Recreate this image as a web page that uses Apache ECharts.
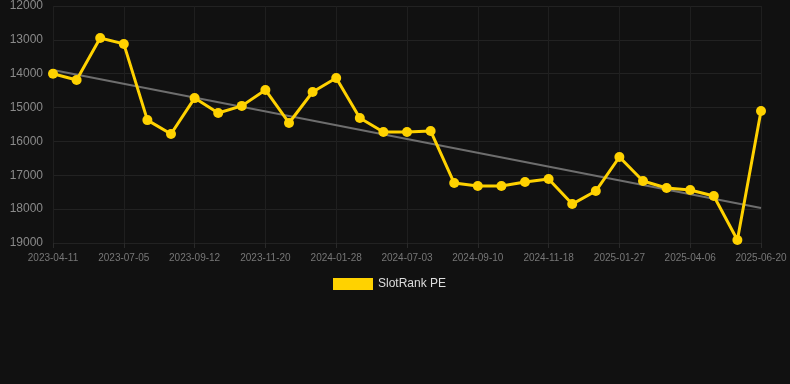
<!DOCTYPE html>
<html>
<head>
<meta charset="utf-8">
<script src="https://cdn.jsdelivr.net/npm/echarts@6/dist/echarts.min.js"></script>
<style>
html,body{margin:0;padding:0;background:#111111;}
#chart{width:790px;height:384px;}
</style>
</head>
<body>
<div id="chart"></div>
<script>
const dates = [
  '2023-04-11','2023-05-09','2023-06-07','2023-07-05','2023-07-28','2023-08-20',
  '2023-09-12','2023-10-05','2023-10-28','2023-11-20','2023-12-13','2024-01-05',
  '2024-01-28','2024-03-20','2024-05-12','2024-07-03','2024-07-26','2024-08-18',
  '2024-09-10','2024-10-03','2024-10-26','2024-11-18','2024-12-11','2025-01-04',
  '2025-01-27','2025-02-19','2025-03-14','2025-04-06','2025-05-01','2025-05-26',
  '2025-06-20'
];
const rankValues = [
  14000, 14185, 12945, 13120, 15370, 15780,
  14720, 15160, 14950, 14480, 15455, 14540,
  14125, 15310, 15720, 15720, 15690, 17230,
  17315, 17315, 17200, 17110, 17850, 17465,
  16460, 17170, 17375, 17435, 17610, 18910,
  15100
];
const trendStart = 13890;
const trendEnd = 17966;
const yTicks = { min: 12000, max: 19000, step: 1000 };
const seriesName = 'SlotRank PE';

const trendData = dates.map((d, i) => i === 0 ? trendStart : (i === dates.length - 1 ? trendEnd : null));

const chart = echarts.init(document.getElementById('chart'), null, { renderer: 'canvas' });
chart.setOption({
  backgroundColor: '#111111',
  animation: false,
  textStyle: { fontFamily: 'Arial, "Liberation Sans", sans-serif' },
  grid: { left: 53, right: 29, top: 6, bottom: 141, containLabel: false },
  legend: {
    data: [{ name: seriesName, icon: 'rect' }],
    top: 273,
    left: 328,
    itemWidth: 40,
    itemHeight: 12,
    itemGap: 10,
    textStyle: { color: '#dddddd', fontSize: 12 }
  },
  xAxis: {
    type: 'category',
    data: dates,
    boundaryGap: false,
    axisLine: { show: false },
    axisTick: { show: true, interval: 2, length: 5, lineStyle: { color: '#2a2a2a' } },
    axisLabel: { interval: 2, color: '#777777', fontSize: 10, margin: 10 },
    splitLine: { show: true, interval: 2, lineStyle: { color: '#1f1f1f', width: 1 } }
  },
  yAxis: {
    type: 'value',
    inverse: true,
    min: yTicks.min,
    max: yTicks.max,
    interval: yTicks.step,
    axisLine: { show: false },
    axisTick: { show: false },
    axisLabel: { color: '#8a8a8a', fontSize: 12, margin: 10, formatter: v => String(v) },
    splitLine: { show: true, lineStyle: { color: '#222222', width: 1 } }
  },
  series: [
    {
      name: 'trend',
      type: 'line',
      data: trendData,
      connectNulls: true,
      symbol: 'none',
      silent: true,
      lineStyle: { color: '#6e6e6e', width: 2 },
      z: 1
    },
    {
      name: seriesName,
      type: 'line',
      data: rankValues,
      symbol: 'circle',
      symbolSize: 10,
      itemStyle: { color: '#FFD200' },
      lineStyle: { color: '#FFD200', width: 3 },
      z: 2
    }
  ]
});
</script>
</body>
</html>
